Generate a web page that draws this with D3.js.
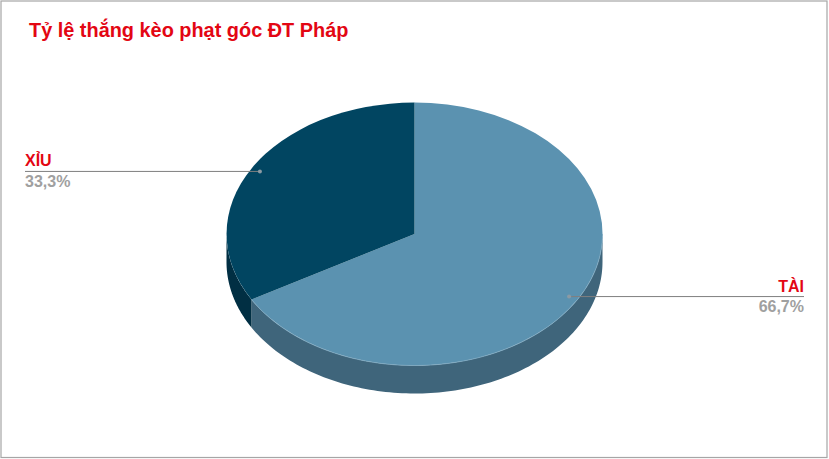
<!DOCTYPE html>
<html><head><meta charset="utf-8">
<script src="https://d3js.org/d3.v7.min.js"></script>
<style>html,body{margin:0;padding:0;background:#fff}svg{display:block}text{font-family:"Liberation Sans",Arial,sans-serif;font-weight:700}</style>
</head><body><svg id="c" width="829" height="459"></svg>
<script>
const chartTitle = "Tỷ lệ thắng kèo phạt góc ĐT Pháp";
const categories = ["TÀI", "XỈU"];
const values = [66.7, 33.3];
const valueLabels = ["66,7%", "33,3%"];
const topColors = ["#5b92b0", "#014561"];
const sideColors = ["#3f657b", "#012f43"];

const W = 829, H = 459, cx = 414.5, cy = 234, rx = 188, ry = 131.5, depth = 28;
const svg = d3.select("#c");
svg.append("rect").attr("x",1).attr("y",1).attr("width",826).attr("height",456.5)
  .attr("fill","#fff").attr("stroke","#a6a6a6").attr("stroke-width",1.2);

const arcs = d3.pie().sort(null).value(d=>d)(values);
const px = a => cx + rx*Math.sin(a), py = a => cy - ry*Math.cos(a);

const g = svg.append("g");
const frontStart = Math.PI/2, frontEnd = 3*Math.PI/2;
arcs.forEach((d,i)=>{
  const a0 = Math.max(d.startAngle, frontStart), a1 = Math.min(d.endAngle, frontEnd);
  if (a1 <= a0) return;
  const steps = d3.range(0,121).map(k=>a0+(a1-a0)*k/120);
  const area = d3.area().x(a=>px(a)).y0(a=>py(a)).y1(a=>py(a)+depth);
  g.append("path").attr("d",area(steps)).attr("fill",sideColors[i]);
});
const arcGen = d3.arc().innerRadius(0).outerRadius(1);
arcs.forEach((d,i)=>{
  g.append("path").attr("d",arcGen(d))
   .attr("transform",`translate(${cx},${cy}) scale(${rx},${ry})`)
   .attr("fill",topColors[i]);
});
const a0 = Math.max(arcs[0].startAngle, frontStart), a1 = arcs[0].endAngle;
g.append("path").attr("d",d3.line().x(a=>px(a)).y(a=>py(a))(d3.range(0,121).map(k=>a0+(a1-a0)*k/120)))
  .attr("fill","none").attr("stroke","#7fa9c1").attr("stroke-width",0.8);

const leaderR = 0.95;
const labelX = [804, 25];
arcs.forEach((d,i)=>{
  const mid = (d.startAngle+d.endAngle)/2;
  const x = cx + leaderR*rx*Math.sin(mid), y = cy - leaderR*ry*Math.cos(mid);
  const right = i===0;
  svg.append("line").attr("x1",x).attr("x2",labelX[i]).attr("y1",y).attr("y2",y)
    .attr("stroke","#7f7f7f").attr("stroke-width",1);
  svg.append("circle").attr("cx",x).attr("cy",y).attr("r",2).attr("fill","#8c9aa3");
  svg.append("text").attr("x",labelX[i]).attr("y",y-5).attr("text-anchor",right?"end":"start")
    .attr("font-size",16).attr("fill","#e30613").text(categories[i]);
  svg.append("text").attr("x",labelX[i]).attr("y",y+15.5).attr("text-anchor",right?"end":"start")
    .attr("font-size",16).attr("fill","#a0a0a0").text(valueLabels[i]);
});
svg.append("text").attr("x",29).attr("y",36.5).attr("font-size",19.9).attr("fill","#e30613").text(chartTitle);
</script></body></html>
